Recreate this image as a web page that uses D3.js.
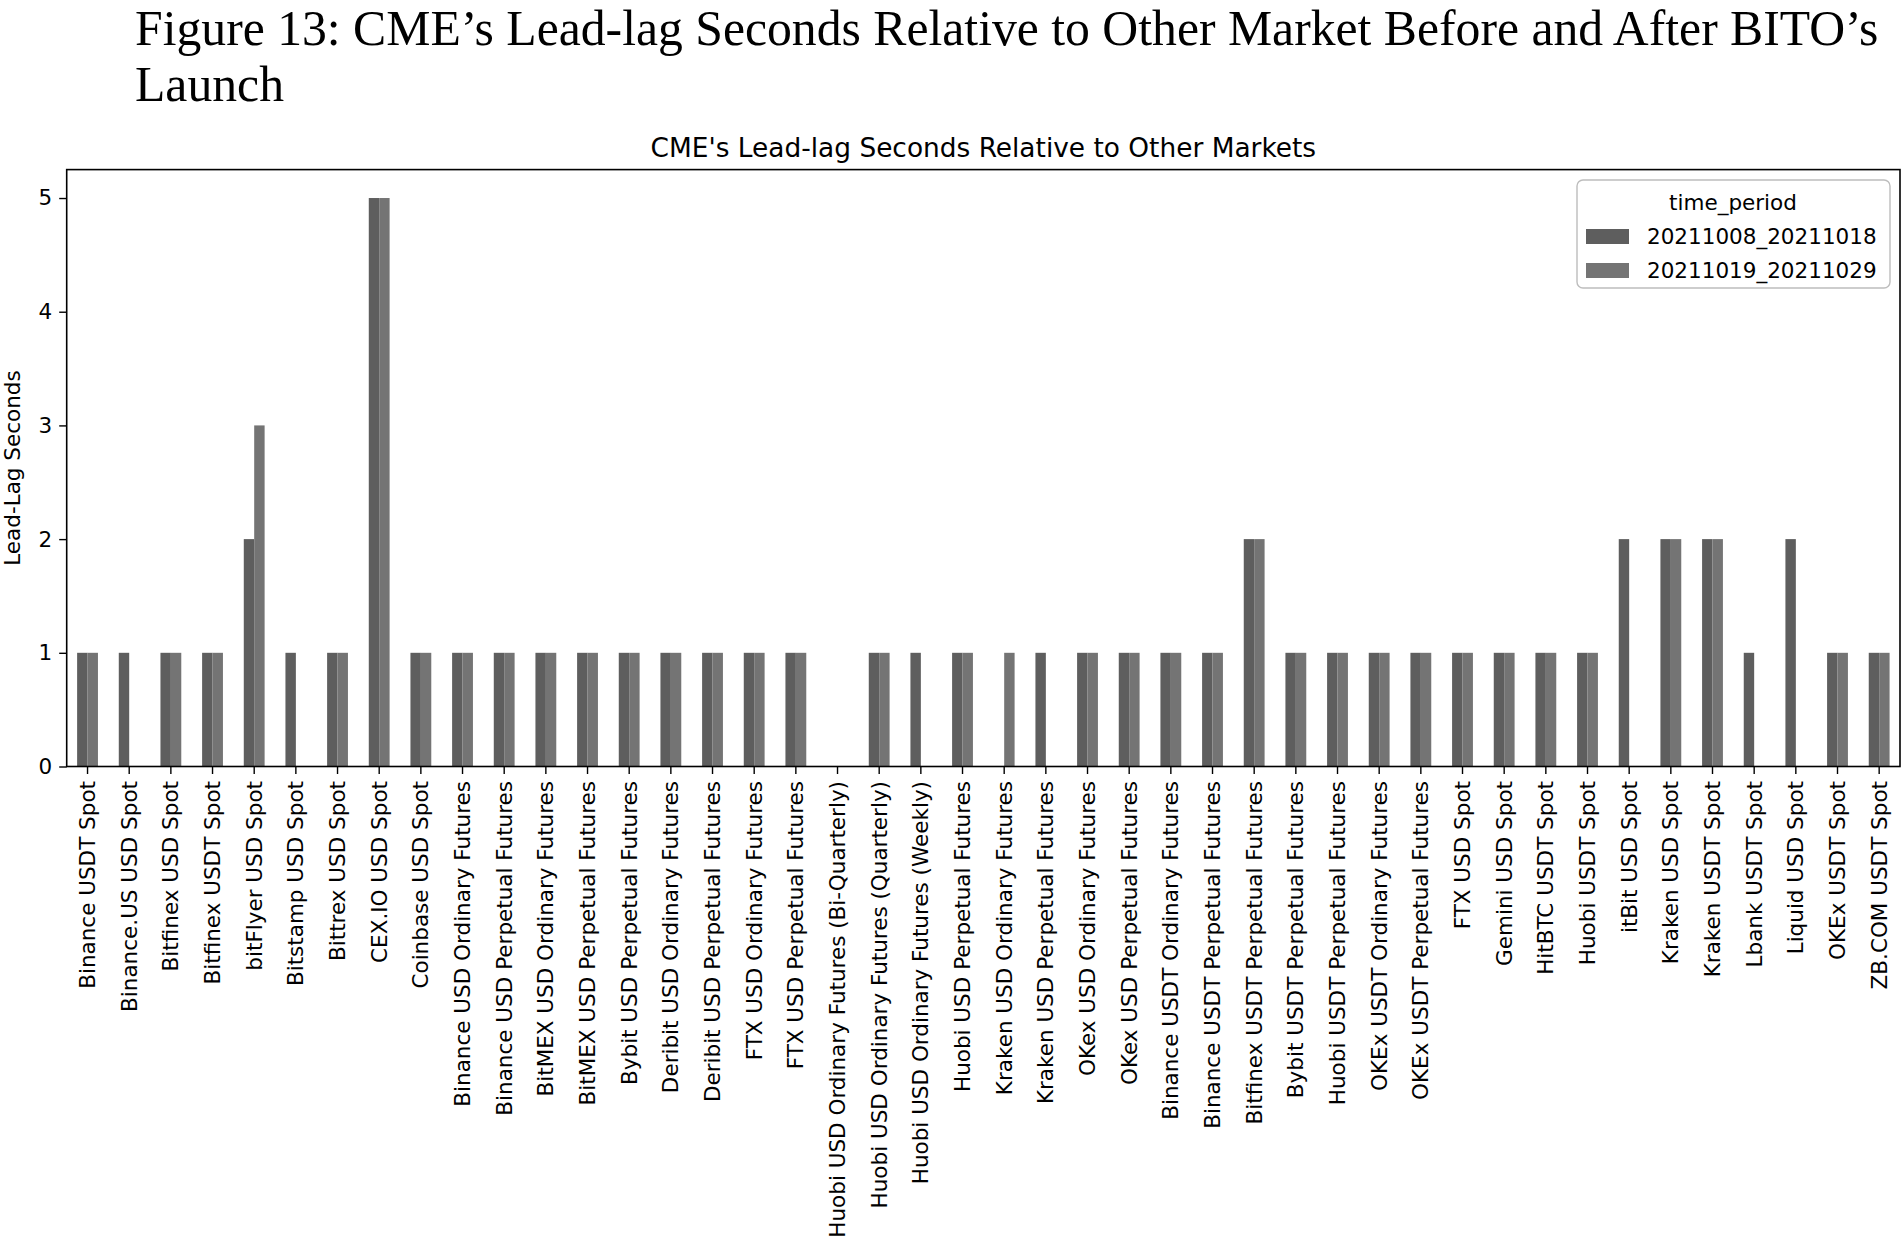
<!DOCTYPE html>
<html lang="en">
<head>
    <meta charset="UTF-8">
    <title>CME lead-lag</title>
    <script src="https://cdn.jsdelivr.net/npm/d3@7/dist/d3.min.js"></script>
    <style>
        *{
            padding: 0;
            margin: 0;
        }
        body{
            background: #ffffff;
        }
        svg{
            display: block;
        }
        .tick text{
            font-family: "DejaVu Sans", sans-serif;
        }
    </style>
</head>
<body>
    <script>
        // markets on the x axis, in the order of the picture
        let markets = [
            "Binance USDT Spot", "Binance.US USD Spot", "Bitfinex USD Spot", "Bitfinex USDT Spot",
            "bitFlyer USD Spot", "Bitstamp USD Spot", "Bittrex USD Spot", "CEX.IO USD Spot",
            "Coinbase USD Spot", "Binance USD Ordinary Futures", "Binance USD Perpetual Futures",
            "BitMEX USD Ordinary Futures", "BitMEX USD Perpetual Futures", "Bybit USD Perpetual Futures",
            "Deribit USD Ordinary Futures", "Deribit USD Perpetual Futures", "FTX USD Ordinary Futures",
            "FTX USD Perpetual Futures", "Huobi USD Ordinary Futures (Bi-Quarterly)",
            "Huobi USD Ordinary Futures (Quarterly)", "Huobi USD Ordinary Futures (Weekly)",
            "Huobi USD Perpetual Futures", "Kraken USD Ordinary Futures", "Kraken USD Perpetual Futures",
            "OKex USD Ordinary Futures", "OKex USD Perpetual Futures", "Binance USDT Ordinary Futures",
            "Binance USDT Perpetual Futures", "Bitfinex USDT Perpetual Futures", "Bybit USDT Perpetual Futures",
            "Huobi USDT Perpetual Futures", "OKEx USDT Ordinary Futures", "OKEx USDT Perpetual Futures",
            "FTX USD Spot", "Gemini USD Spot", "HitBTC USDT Spot", "Huobi USDT Spot", "itBit USD Spot",
            "Kraken USD Spot", "Kraken USDT Spot", "Lbank USDT Spot", "Liquid USD Spot",
            "OKEx USDT Spot", "ZB.COM USDT Spot"
        ];
        let periods = ["20211008_20211018", "20211019_20211029"];
        // lead-lag seconds, null = no bar
        let before = [1,1,1,1,2,1,1,5,1,1,1,1,1,1,1,1,1,1,0,1,1,1,null,1,1,1,1,1,2,1,1,1,1,1,1,1,1,2,2,2,1,2,1,1];
        let after  = [1,null,1,1,3,null,1,5,1,1,1,1,1,1,1,1,1,1,0,1,null,1,1,null,1,1,1,1,2,1,1,1,1,1,1,1,1,null,2,2,null,null,1,1];
        let yTicks = [0,1,2,3,4,5];

        let colors = ["#5e5e5e", "#747474"];
        let W = 1904, H = 1247;
        let pLeft = 66.7, pRight = 1900, pTop = 169.6, pBottom = 766.5;

        let svg = d3.select("body").append("svg")
            .attr("width", W)
            .attr("height", H);

        // caption above the chart
        let cap = svg.append("text")
            .style("font-family", "'Liberation Serif', 'Times New Roman', serif")
            .style("font-size", "49.7px")
            .attr("fill", "#000");
        cap.append("tspan").attr("x", 135).attr("y", 44.5)
            .text("Figure 13: CME\u2019s Lead-lag Seconds Relative to Other Market Before and After BITO\u2019s");
        cap.append("tspan").attr("x", 135).attr("y", 100.5).text("Launch");

        let x = d3.scaleBand().domain(markets).range([pLeft, pRight]);
        let xSub = d3.scaleBand().domain(periods).range([x.bandwidth() * 0.25, x.bandwidth() * 0.75]);
        let y = d3.scaleLinear().domain([0, 5.25]).range([pBottom, pTop]);

        let rows = [];
        markets.forEach(function (m, i) {
            rows.push({market: m, period: periods[0], v: before[i], c: colors[0]});
            rows.push({market: m, period: periods[1], v: after[i], c: colors[1]});
        });

        svg.append("g").selectAll("rect")
            .data(rows.filter(function (d) { return d.v !== null && d.v > 0; }))
            .enter().append("rect")
            .attr("x", function (d) { return x(d.market) + xSub(d.period); })
            .attr("width", xSub.bandwidth())
            .attr("y", function (d) { return y(d.v); })
            .attr("height", function (d) { return y(0) - y(d.v); })
            .attr("fill", function (d) { return d.c; });

        // axes
        let xAxis = svg.append("g")
            .attr("transform", "translate(0," + pBottom + ")")
            .call(d3.axisBottom(x).tickSizeOuter(0).tickSize(7.5).tickPadding(7));
        xAxis.select(".domain").remove();
        xAxis.selectAll(".tick line").attr("stroke", "#000").attr("stroke-width", 1.4);
        xAxis.selectAll(".tick text")
            .style("font-size", "21.5px")
            .attr("fill", "#000")
            .attr("transform", "rotate(-90)")
            .attr("text-anchor", "end")
            .attr("x", -14.5)
            .attr("y", 0)
            .attr("dy", "0.35em");

        let yAxis = svg.append("g")
            .attr("transform", "translate(" + pLeft + ",0)")
            .call(d3.axisLeft(y).tickValues(yTicks).tickFormat(d3.format("d")).tickSize(7.5).tickPadding(7));
        yAxis.select(".domain").remove();
        yAxis.selectAll(".tick line").attr("stroke", "#000").attr("stroke-width", 1.4);
        yAxis.selectAll(".tick text").style("font-size", "21.5px").attr("fill", "#000");

        // frame
        svg.append("rect")
            .attr("x", pLeft).attr("y", pTop)
            .attr("width", pRight - pLeft).attr("height", pBottom - pTop)
            .attr("fill", "none")
            .attr("stroke", "#000")
            .attr("stroke-width", 1.6);

        svg.append("text")
            .attr("x", (pLeft + pRight) / 2)
            .attr("y", pTop - 13)
            .attr("text-anchor", "middle")
            .style("font-family", "'DejaVu Sans', sans-serif")
            .style("font-size", "26.4px")
            .text("CME's Lead-lag Seconds Relative to Other Markets");

        svg.append("text")
            .attr("transform", "translate(20," + (pTop + pBottom) / 2 + ") rotate(-90)")
            .attr("text-anchor", "middle")
            .style("font-family", "'DejaVu Sans', sans-serif")
            .style("font-size", "21.5px")
            .text("Lead-Lag Seconds");

        // legend
        let lg = svg.append("g").attr("transform", "translate(1577,180)");
        lg.append("rect")
            .attr("width", 313).attr("height", 108)
            .attr("rx", 6).attr("ry", 6)
            .attr("fill", "#fff")
            .attr("stroke", "#bdbdbd")
            .attr("stroke-width", 1.4);
        lg.append("text")
            .attr("x", 156).attr("y", 30)
            .attr("text-anchor", "middle")
            .style("font-family", "'DejaVu Sans', sans-serif")
            .style("font-size", "21.5px")
            .text("time_period");
        periods.forEach(function (p, i) {
            lg.append("rect")
                .attr("x", 9).attr("y", 49 + i * 34)
                .attr("width", 43).attr("height", 15)
                .attr("fill", colors[i]);
            lg.append("text")
                .attr("x", 70).attr("y", 64 + i * 34)
                .style("font-family", "'DejaVu Sans', sans-serif")
                .style("font-size", "21.5px")
                .text(p);
        });
    </script>
</body>
</html>
